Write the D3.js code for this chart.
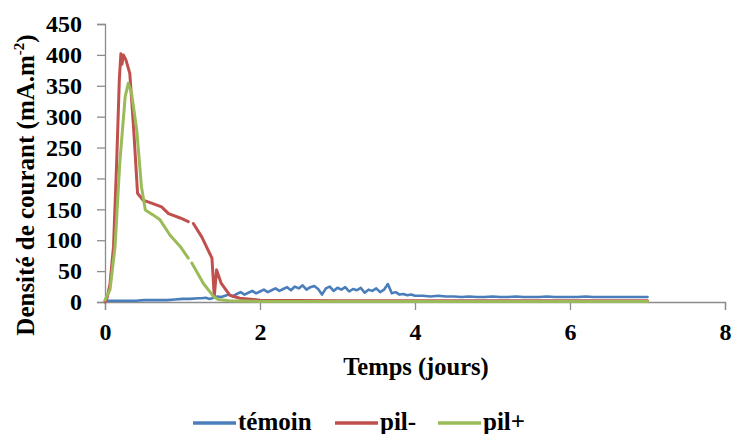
<!DOCTYPE html>
<html><head><meta charset="utf-8">
<script src="https://cdn.jsdelivr.net/npm/d3@7"></script>
<style>
html,body{margin:0;padding:0;background:#fff;}
svg text{font-family:"Liberation Serif","Times New Roman",Times,serif;font-weight:bold;fill:#000;}
</style></head>
<body><svg id="c" width="734" height="434"></svg>
<script>
const xTicks = [0, 2, 4, 6, 8];
const yTicks = [0, 50, 100, 150, 200, 250, 300, 350, 400, 450];
const seriesNames = ["témoin", "pil-", "pil+"];
const seriesColors = ["#4A7EBB", "#C0504D", "#9BBB59"];

const temoinT = [0,0.1,0.2,0.3,0.4,0.5,0.6,0.7,0.8,0.9,1.0,1.1,1.2,
 1.25,1.3,1.35,1.4,1.45,1.5,1.55,1.6,1.65,1.7,1.75,1.8,1.85,1.9,1.95,2.0,2.05,2.1,2.15,2.2,2.25,2.3,2.35,2.4,2.45,2.5,2.55,2.6,2.65,2.7,2.75,2.8,2.85,2.9,2.95,3.0,3.05,3.1,3.15,3.2,3.25,3.3,3.35,3.4,3.45,3.5,3.55,3.6,3.65,3.7,3.75,3.8,3.85,3.9,3.95,4.0,
 4.1,4.2,4.3,4.4,4.5,4.6,4.7,4.8,4.9,5.0,5.1,5.2,5.3,5.4,5.5,5.6,5.7,5.8,5.9,6.0,6.1,6.2,6.3,6.4,6.5,6.6,6.7,6.8,6.9,7.0];
const temoinV = [2,2,2,2,2,3,3,3,3,4,5,5,6,
 6,7,5,7,9,8,10,12,9,13,16,12,15,18,14,17,20,16,19,22,18,21,24,19,25,22,27,20,24,26,21,12,22,25,18,23,20,24,17,21,19,23,15,20,18,22,16,20,29,14,16,12,13,11,12,10,
 10,9,10,9,9,8,9,8,8,9,8,8,9,8,8,8,9,8,8,8,8,9,8,8,8,8,8,8,8,8];

const pilMoinsT = [0,0.03,0.065,0.11,0.15,0.185,0.205,0.22,0.237,0.27,0.32,0.37,0.42,0.49,0.6,0.73,0.82,0.97,1.075,1.1,1.14,1.25,1.38,1.41,1.44,1.5,1.61,1.74,2.0,3.0,4.0,5.0,6.0,7.0];
const pilMoinsV = [0,8,30,90,224,360,402,385,400,392,370,280,176,165,160,154,143,136,130,null,127,105,71,9,52,30,11,6,3,2,2,2,2,2];

const pilPlusT = [0,0.065,0.13,0.19,0.26,0.3,0.34,0.41,0.47,0.52,0.62,0.71,0.84,0.97,1.075,1.1,1.12,1.27,1.4,1.46,1.6,2.0,3.0,4.0,5.0,6.0,7.0];
const pilPlusV = [3,20,90,224,332,354,340,278,187,149,141,133,108,90,71,null,63,30,9,4,2,1,1,1,1,1,1];

const svg = d3.select("#c");
const x = d3.scaleLinear().domain([0, 8]).range([105, 725]);
const y = d3.scaleLinear().domain([0, 450]).range([302, 24]);
const axisColor = "#8c8c8c";

// axes
const gx = svg.append("g").attr("transform", `translate(0,${y(0)})`)
  .call(d3.axisBottom(x).tickValues(xTicks).tickSize(8).tickPadding(6).tickFormat(d3.format("d")));
const gy = svg.append("g").attr("transform", `translate(${x(0)},0)`)
  .call(d3.axisLeft(y).tickValues(yTicks).tickSize(8).tickPadding(15).tickFormat(d3.format("d")));
[gx, gy].forEach(g => {
  g.attr("font-family", null);
  g.select(".domain").attr("stroke", axisColor).attr("stroke-width", 1.3);
  g.selectAll(".tick line").attr("stroke", axisColor).attr("stroke-width", 1.3);
  g.selectAll("text").attr("font-size", 24).attr("fill", "#000");
});
gx.selectAll("text").attr("dy", "1em");

// lines
const series = [
  {t: temoinT, v: temoinV},
  {t: pilMoinsT, v: pilMoinsV},
  {t: pilPlusT, v: pilPlusV}
];
const line = d3.line()
  .defined(d => d[1] !== null)
  .x(d => x(d[0])).y(d => y(d[1]));
series.forEach((s, i) => {
  const pts = s.t.map((t, k) => [t, s.v[k]]);
  svg.append("path").datum(pts)
    .attr("d", line)
    .attr("fill", "none")
    .attr("stroke", seriesColors[i])
    .attr("stroke-width", i === 0 ? 2.6 : 3)
    .attr("stroke-linejoin", "round")
    .attr("stroke-linecap", "round");
});

// axis titles
svg.append("text").attr("x", 416).attr("y", 375).attr("text-anchor", "middle")
  .attr("font-size", 24.5).text("Temps (jours)");
const yt = svg.append("text").attr("transform", "translate(34,185) rotate(-90)")
  .attr("text-anchor", "middle").attr("font-size", 25);
yt.append("tspan").text("Densité de courant (mA.m");
yt.append("tspan").attr("font-size", 15).attr("dy", -10).text("-2");
yt.append("tspan").attr("dy", 10).text(")");

// legend
const legX = [193, 335, 438];
seriesNames.forEach((n, i) => {
  svg.append("line").attr("x1", legX[i]).attr("x2", legX[i] + 43)
    .attr("y1", 423).attr("y2", 423)
    .attr("stroke", seriesColors[i]).attr("stroke-width", 3.5);
  svg.append("text").attr("x", legX[i] + 45).attr("y", 430)
    .attr("font-size", 25).text(n);
});
</script></body></html>
